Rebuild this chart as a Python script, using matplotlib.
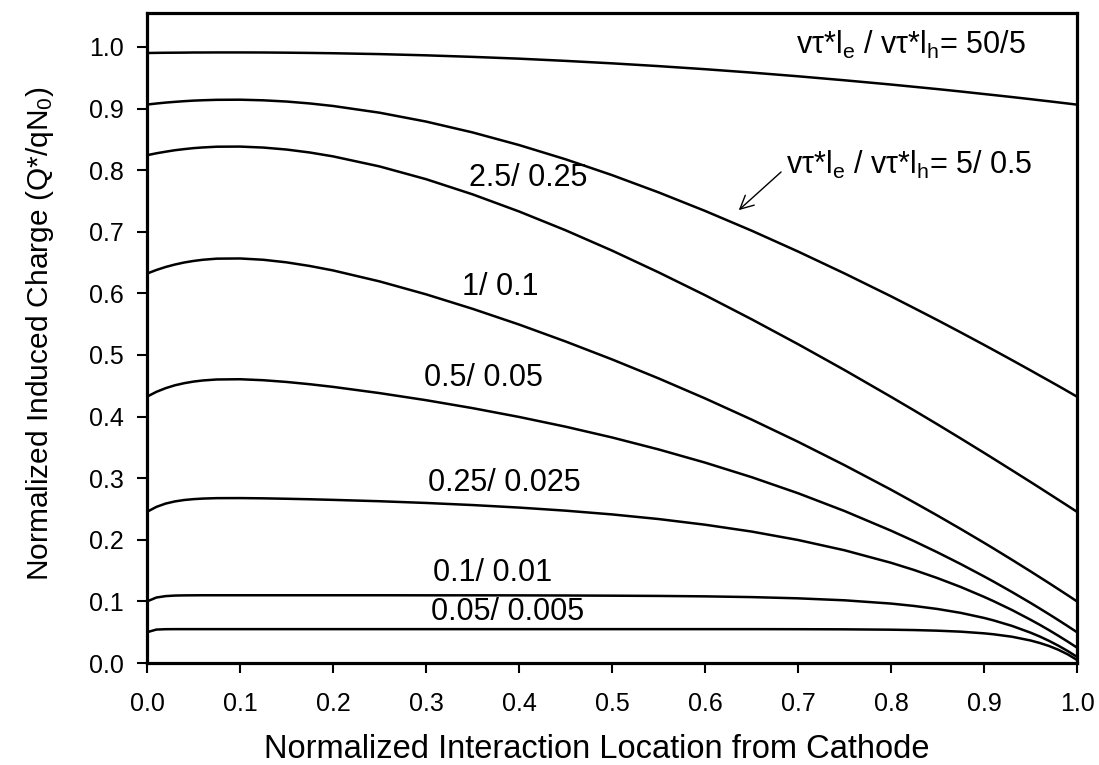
import matplotlib
matplotlib.use("Agg")
import matplotlib.pyplot as plt

plt.rcParams['font.family'] = ['Liberation Sans', 'DejaVu Sans']
plt.rcParams['mathtext.default'] = 'regular'

x = [0, 0.01, 0.02, 0.03, 0.04, 0.05, 0.06, 0.075, 0.1, 0.125, 0.15, 0.175, 0.2, 0.25,
     0.3, 0.35, 0.4, 0.45, 0.5, 0.55, 0.6, 0.65, 0.7, 0.75, 0.8, 0.825, 0.85, 0.875,
     0.9, 0.91, 0.93, 0.95, 0.96, 0.97, 0.98, 0.99, 1.0]

q_50_5 = [0.9901, 0.9903, 0.9905, 0.9906, 0.9907, 0.9909, 0.9909, 0.9910, 0.9910, 0.9909,
          0.9906, 0.9902, 0.9897, 0.9883, 0.9863, 0.9838, 0.9809, 0.9773, 0.9733, 0.9688,
          0.9638, 0.9583, 0.9523, 0.9458, 0.9389, 0.9352, 0.9315, 0.9276, 0.9235, 0.9219,
          0.9186, 0.9152, 0.9134, 0.9117, 0.9099, 0.9081, 0.9063]
q_5_05 = [0.9064, 0.9081, 0.9096, 0.9108, 0.9119, 0.9128, 0.9134, 0.9141, 0.9143, 0.9133,
          0.9113, 0.9082, 0.9041, 0.8932, 0.8788, 0.8612, 0.8407, 0.8176, 0.7919, 0.7639,
          0.7338, 0.7018, 0.6679, 0.6323, 0.5952, 0.5759, 0.5565, 0.5366, 0.5164, 0.5082,
          0.4917, 0.4750, 0.4665, 0.4581, 0.4496, 0.4410, 0.4323]
q_25_025 = [0.8242, 0.8273, 0.8299, 0.8323, 0.8341, 0.8357, 0.8368, 0.8380, 0.8382, 0.8366,
            0.8334, 0.8286, 0.8223, 0.8060, 0.7853, 0.7607, 0.7329, 0.7024, 0.6694, 0.6341,
            0.5970, 0.5580, 0.5175, 0.4755, 0.4320, 0.4098, 0.3873, 0.3644, 0.3412, 0.3318,
            0.3129, 0.2939, 0.2843, 0.2746, 0.2649, 0.2552, 0.2454]
q_1_01 = [0.6321, 0.6379, 0.6428, 0.6468, 0.6501, 0.6526, 0.6545, 0.6563, 0.6566, 0.6545,
          0.6503, 0.6444, 0.6372, 0.6194, 0.5984, 0.5749, 0.5494, 0.5219, 0.4928, 0.4620,
          0.4295, 0.3952, 0.3591, 0.3211, 0.2813, 0.2605, 0.2393, 0.2175, 0.1952, 0.1861,
          0.1676, 0.1488, 0.1392, 0.1296, 0.1198, 0.1100, 0.1000]
q_05_005 = [0.4323, 0.4401, 0.4461, 0.4508, 0.4542, 0.4568, 0.4586, 0.4602, 0.4606, 0.4590,
            0.4562, 0.4525, 0.4482, 0.4381, 0.4266, 0.4137, 0.3994, 0.3836, 0.3661, 0.3467,
            0.3253, 0.3017, 0.2756, 0.2467, 0.2148, 0.1977, 0.1796, 0.1606, 0.1406, 0.1324,
            0.1153, 0.0976, 0.0884, 0.0791, 0.0696, 0.0599, 0.0500]
q_025_0025 = [0.2454, 0.2534, 0.2588, 0.2623, 0.2646, 0.2660, 0.2669, 0.2676, 0.2677, 0.2673,
              0.2666, 0.2658, 0.2648, 0.2626, 0.2598, 0.2564, 0.2523, 0.2473, 0.2412, 0.2337,
              0.2245, 0.2134, 0.1997, 0.1830, 0.1627, 0.1509, 0.1378, 0.1234, 0.1074, 0.1006,
              0.0861, 0.0703, 0.0620, 0.0533, 0.0442, 0.0348, 0.0250]
q_01_001 = [0.1000, 0.1063, 0.1086, 0.1095, 0.1098, 0.1099, 0.1100, 0.1100, 0.1100, 0.1100,
            0.1100, 0.1100, 0.1100, 0.1100, 0.1099, 0.1099, 0.1098, 0.1096, 0.1093, 0.1089,
            0.1082, 0.1070, 0.1050, 0.1018, 0.0965, 0.0926, 0.0877, 0.0814, 0.0732, 0.0693,
            0.0603, 0.0493, 0.0430, 0.0359, 0.0281, 0.0195, 0.0100]
q_005_0005 = [0.0500, 0.0543, 0.0549, 0.0550, 0.0550, 0.0550, 0.0550, 0.0550, 0.0550, 0.0550,
              0.0550, 0.0550, 0.0550, 0.0550, 0.0550, 0.0550, 0.0550, 0.0550, 0.0550, 0.0550,
              0.0550, 0.0550, 0.0549, 0.0547, 0.0541, 0.0535, 0.0525, 0.0509, 0.0482, 0.0467,
              0.0427, 0.0366, 0.0325, 0.0276, 0.0215, 0.0141, 0.0050]

series = [q_50_5, q_5_05, q_25_025, q_1_01, q_05_005, q_025_0025, q_01_001, q_005_0005]

labels = ["2.5/ 0.25", "1/ 0.1", "0.5/ 0.05", "0.25/ 0.025", "0.1/ 0.01", "0.05/ 0.005"]
label_x = [0.346, 0.339, 0.298, 0.302, 0.307, 0.305]
label_y = [0.787, 0.610, 0.463, 0.292, 0.146, 0.083]

xticks = [0.0, 0.1, 0.2, 0.3, 0.4, 0.5, 0.6, 0.7, 0.8, 0.9, 1.0]
yticks = [0.0, 0.1, 0.2, 0.3, 0.4, 0.5, 0.6, 0.7, 0.8, 0.9, 1.0]

fig = plt.figure(figsize=(10.99, 7.65), dpi=100)
ax = fig.add_axes([0.1338, 0.1333, 0.8462, 0.8497])

for s in series:
    ax.plot(x, s, color='black', lw=1.8, solid_capstyle='butt')

ax.set_xlim(0, 1.0)
ax.set_ylim(0, 1.055)
ax.set_xticks(xticks)
ax.set_yticks(yticks)
ax.set_xticklabels([f"{t:.1f}" for t in xticks])
ax.set_yticklabels([f"{t:.1f}" for t in yticks])
ax.tick_params(direction='out', length=7, width=1.5, labelsize=18)
ax.tick_params(axis='y', pad=10)
ax.tick_params(axis='x', pad=14)
for sp in ax.spines.values():
    sp.set_linewidth(2.3)

ax.set_xlabel("Normalized Interaction Location from Cathode", fontsize=23.5, va='top')
ax.xaxis.set_label_coords(0.484, -0.109)
ax.set_ylabel("Normalized Induced Charge (Q*/qN$_0$)", fontsize=21.5, va='center')
ax.yaxis.set_label_coords(-0.115, 0.506)

for t, lx, ly in zip(labels, label_x, label_y):
    ax.text(lx, ly, t, fontsize=22, ha='left', va='center')

ax.text(0.698, 1.003, "v\u03c4*l$_e$ / v\u03c4*l$_h$= 50/5", fontsize=22, ha='left', va='center')
ax.text(0.687, 0.808, "v\u03c4*l$_e$ / v\u03c4*l$_h$= 5/ 0.5", fontsize=22, ha='left', va='center')
ax.annotate("", xy=(0.634, 0.732), xytext=(0.684, 0.800),
            arrowprops=dict(arrowstyle='->', color='black', lw=1.0, mutation_scale=24))

fig.savefig("out.png", dpi=100)
